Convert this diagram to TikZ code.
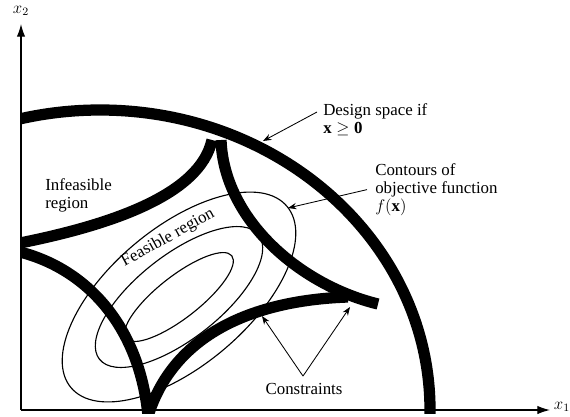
\documentclass[tikz,border=0pt]{standalone}
\usepackage{fontspec}
\setmainfont{Liberation Serif}
\usetikzlibrary{arrows.meta, positioning, calc}
\tikzset{
  constr/.style  = {line width=8pt},
  contour/.style = {line width=0.8pt},
  axis/.style    = {line width=0.9pt, -{Latex[length=9pt, width=6pt]}},
  arr/.style     = {line width=0.6pt, -{Stealth[length=6pt, width=4.5pt]}},
  lbl/.style     = {font=\fontsize{12}{13}\selectfont, inner sep=0pt, align=left}
}

\begin{document}
\begin{tikzpicture}[x=0.025cm, y=-0.025cm]
  \useasboundingbox (0,0) rectangle (570,416);

  % ── Contours of the objective function ────────────────────────────────────
  \coordinate (Centre) at (179,297);
  \draw[contour, rotate around={38:(Centre)}] (Centre) ellipse [x radius=67, y radius=21];
  \draw[contour, rotate around={38:(Centre)}] (Centre) ellipse [x radius=101, y radius=42];
  \draw[contour, rotate around={40:(Centre)}] (Centre) ellipse [x radius=141, y radius=69];

  % ── Design space and constraints (kept in x >= 0) ─────────────────────────
  \begin{scope}
    \clip (21,0) rectangle (570,413);
    \draw[constr] (100,410) ellipse [x radius=330, y radius=300];
    \draw[constr] (20,243) .. controls (110,225) and (200,195) .. (212,140);
    \draw[constr] (221,140) .. controls (224,220) and (300,285) .. (378,304);
    \draw[constr] (20,252) .. controls (90,270) and (140,330) .. (148,416);
    \draw[constr] (148,416) .. controls (175,330) and (260,300) .. (348,297);
  \end{scope}

  % ── Labels ────────────────────────────────────────────────────────────────
  \node[lbl, anchor=north west] (Design) at (323,103)
    {Design space if\\ $\mathbf{x} \geq \mathbf{0}$};
  \node[lbl, anchor=north west] (Contours) at (375,163)
    {Contours of\\ objective function\\ $f(\mathbf{x})$};
  \node[lbl, anchor=north west] (Infeas) at (45,178) {Infeasible\\ region};
  \node[lbl, rotate=29] (Feas) at (168,238) {Feasible region};
  \node[lbl] (Constr) at (304,389) {Constraints};

  % ── Leaders ───────────────────────────────────────────────────────────────
  \coordinate (DesignTip) at (263,141);
  \coordinate (ContTip)   at (288,208);
  \coordinate (LowTip)    at (262,316);
  \coordinate (CuspTip)   at (350,307);
  \coordinate (Apex)      at ($(Constr.north)+(-1,-7)$);

  \draw[arr] ($(Design.north west)+(-6,9)$) -- (DesignTip);
  \draw[arr] ($(Contours.west)+(-8,0)$) -- (ContTip);
  \draw[arr] (Apex) -- (LowTip);
  \draw[arr] (Apex) -- (CuspTip);

  % ── Axes ──────────────────────────────────────────────────────────────────
  \coordinate (Origin) at (21,410);
  \coordinate (X1Tip)  at (550,410);
  \coordinate (X2Tip)  at (21,24);
  \node[lbl] (X1) at (562,407) {$x_1$};
  \node[lbl] (X2) at (21,11)   {$x_2$};
  \draw[axis] (Origin) -- (X1Tip);
  \draw[axis] (Origin) -- (X2Tip);

\end{tikzpicture}
\end{document}
